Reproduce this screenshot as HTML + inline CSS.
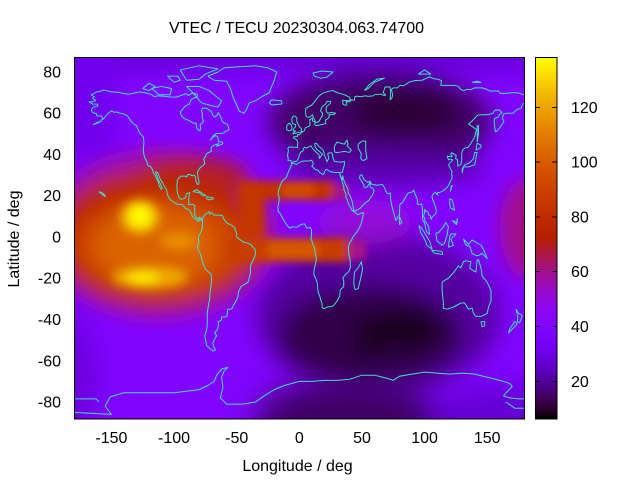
<!DOCTYPE html>
<html><head><meta charset="utf-8"><style>
html,body{margin:0;padding:0;background:#fff;}
svg{display:block;}
text{font-family:"Liberation Sans",Arial,sans-serif;font-size:16px;fill:#000;}
.cst polyline{fill:none;stroke:#40e0d0;stroke-width:1;vector-effect:non-scaling-stroke;stroke-linejoin:round;}
</style></head><body>
<svg width="640" height="480" viewBox="0 0 640 480" xmlns="http://www.w3.org/2000/svg">
<defs>
<clipPath id="pc"><rect x="74" y="57" width="451" height="362"/></clipPath>
<filter id="b16" filterUnits="userSpaceOnUse" x="-100" y="-100" width="840" height="680"><feGaussianBlur stdDeviation="16"/></filter>
<filter id="b12" filterUnits="userSpaceOnUse" x="-100" y="-100" width="840" height="680"><feGaussianBlur stdDeviation="12"/></filter>
<filter id="b9" filterUnits="userSpaceOnUse" x="-100" y="-100" width="840" height="680"><feGaussianBlur stdDeviation="9"/></filter>
<filter id="b5" filterUnits="userSpaceOnUse" x="-100" y="-100" width="840" height="680"><feGaussianBlur stdDeviation="5"/></filter>
<filter id="b4" filterUnits="userSpaceOnUse" x="-100" y="-100" width="840" height="680"><feGaussianBlur stdDeviation="4"/></filter>
<linearGradient id="cb" x1="0" y1="0" x2="0" y2="1">
<stop offset="0" stop-color="rgb(255,255,0)"/>
<stop offset="0.05" stop-color="rgb(249,219,0)"/>
<stop offset="0.10" stop-color="rgb(242,186,0)"/>
<stop offset="0.15" stop-color="rgb(235,157,0)"/>
<stop offset="0.20" stop-color="rgb(228,131,0)"/>
<stop offset="0.25" stop-color="rgb(221,108,0)"/>
<stop offset="0.30" stop-color="rgb(213,87,0)"/>
<stop offset="0.35" stop-color="rgb(206,70,0)"/>
<stop offset="0.40" stop-color="rgb(198,55,0)"/>
<stop offset="0.45" stop-color="rgb(189,42,0)"/>
<stop offset="0.50" stop-color="rgb(180,32,0)"/>
<stop offset="0.55" stop-color="rgb(171,23,79)"/>
<stop offset="0.60" stop-color="rgb(161,16,150)"/>
<stop offset="0.65" stop-color="rgb(151,11,206)"/>
<stop offset="0.70" stop-color="rgb(140,7,243)"/>
<stop offset="0.75" stop-color="rgb(128,4,255)"/>
<stop offset="0.80" stop-color="rgb(114,2,243)"/>
<stop offset="0.85" stop-color="rgb(99,1,206)"/>
<stop offset="0.90" stop-color="rgb(81,0,150)"/>
<stop offset="0.95" stop-color="rgb(57,0,79)"/>
<stop offset="0.975" stop-color="rgb(40,0,40)"/>
<stop offset="1" stop-color="rgb(0,0,0)"/>
</linearGradient>
</defs>
<rect x="0" y="0" width="640" height="480" fill="#fff"/>

<g clip-path="url(#pc)">
<rect x="74" y="57" width="451" height="362" fill="rgb(129,4,255)"/>
<g filter="url(#b12)">
<rect x="40" y="20" width="600" height="52" fill="rgb(103,1,215)"/>
<rect x="40" y="20" width="75" height="140" fill="rgb(112,2,236)"/>
<ellipse cx="380" cy="122" rx="112" ry="52" fill="rgb(66,0,104)"/>
<ellipse cx="405" cy="112" rx="55" ry="22" fill="rgb(42,0,50)"/>
<ellipse cx="385" cy="168" rx="100" ry="18" fill="rgb(88,0,170)"/>
<ellipse cx="378" cy="315" rx="122" ry="80" fill="rgb(85,0,160)"/>
<ellipse cx="370" cy="335" rx="92" ry="50" fill="rgb(50,0,72)"/>
<ellipse cx="400" cy="330" rx="45" ry="18" fill="rgb(25,0,25)"/>
<ellipse cx="367" cy="350" rx="12" ry="10" fill="rgb(20,0,20)"/>
<ellipse cx="365" cy="222" rx="48" ry="22" fill="rgb(148,10,215)"/>
</g>
<g filter="url(#b16)">
<ellipse cx="350" cy="420" rx="95" ry="40" fill="rgb(62,0,98)"/>
<ellipse cx="500" cy="425" rx="70" ry="40" fill="rgb(100,1,210)"/>
<ellipse cx="60" cy="380" rx="35" ry="70" fill="rgb(103,1,215)"/>
</g>
<g filter="url(#b9)">
<ellipse cx="160" cy="234" rx="118" ry="86" fill="rgb(156,12,175)"/>
<ellipse cx="190" cy="180" rx="60" ry="25" fill="rgb(176,28,50)"/>
<ellipse cx="158" cy="238" rx="105" ry="70" fill="rgb(186,40,0)"/>
<ellipse cx="160" cy="245" rx="85" ry="50" fill="rgb(206,70,0)"/>
<ellipse cx="155" cy="246" rx="60" ry="38" fill="rgb(218,100,0)"/>
<ellipse cx="528" cy="228" rx="28" ry="50" fill="rgb(163,17,140)"/>
</g>
<g filter="url(#b5)">
<ellipse cx="140" cy="217" rx="20" ry="17" fill="rgb(240,175,0)"/>
<ellipse cx="140" cy="216" rx="12" ry="12" fill="rgb(255,248,0)"/>
<ellipse cx="150" cy="277" rx="38" ry="11" fill="rgb(238,168,0)"/>
<ellipse cx="143" cy="278" rx="16" ry="6" fill="rgb(252,235,0)"/>
<ellipse cx="178" cy="241" rx="18" ry="9" fill="rgb(232,140,0)"/>
</g>
<g filter="url(#b4)">
<rect x="243" y="181" width="92" height="19" fill="rgb(194,50,0)"/>
<rect x="282" y="183" width="32" height="14" fill="rgb(210,78,0)"/>
<rect x="333" y="184" width="15" height="16" fill="rgb(165,18,135)"/>
<rect x="238" y="181" width="26" height="55" fill="rgb(196,53,0)"/>
<rect x="228" y="238" width="122" height="24" fill="rgb(200,62,0)"/>
<rect x="268" y="241" width="50" height="17" fill="rgb(213,88,0)"/>
<rect x="348" y="240" width="18" height="20" fill="rgb(165,18,135)"/>
</g>

<g class="cst" transform="translate(299.3,237) scale(1.2528,-2.0625)">
<polyline points="-168,65.5 -165,64.5 -161,64.4 -160.8,63.5 -164.5,63 -166,61.5 -165,60.3 -162,59.8 -161.7,58.7 -158,58.6 -157,57.5 -158.5,56 -161.5,55.5 -164.5,54.5 -160,55.5 -156,57.5 -154,59 -151.5,60.5 -150,61.2 -148,60.5 -146,60.6 -143,60 -140,59.7 -137,58.7 -136,57.5 -134,56 -131.5,54.5 -130,54 -129,52.5 -127.5,50.5 -124.5,48.5 -124,46 -124.5,42.5 -124.2,40.5 -123.5,38.5 -122.4,37.5 -121.8,36.5 -120.6,34.6 -118.5,34 -117.2,32.7 -116.2,30.6 -115,30 -114.2,28.5 -112.6,26.8 -112,25 -110.1,23 -109.5,23.5 -110,24.5 -111.5,26.5 -113,28.5 -114.8,31.5 -113,31.3 -112,29.5 -110.6,27.6 -109.3,26.5 -108,25 -105.8,22.6 -105.3,20.5 -103.6,18.5 -101,17.2 -98,16 -95.5,15.8 -93,15.5 -91,13.9 -88,13.2 -87.5,12.8 -85.7,11 -85.8,10.2 -84,9.2 -82.2,8.4 -80.2,7.4 -80,8.8 -78.5,8.5 -77.3,7.5 -77.5,8.7 -79.6,9.6 -81.5,8.8 -83.5,10.6 -83.4,15.2 -85.2,15.9 -88.2,15.7 -88.3,18.5 -87.5,21.5 -90.3,21 -90.5,19.5 -91.4,18.8 -94.4,18.2 -96,19.2 -97.4,21.5 -97.7,24.5 -97.3,27.5 -96.5,28.4 -94.5,29.5 -91.5,29.5 -89.7,29.1 -89.4,30.2 -87.5,30.3 -85.3,29.7 -84,30.1 -82.8,29 -82.7,27.5 -81.3,25.5 -80.3,25.6 -80.1,27 -81,29.6 -81.3,31.4 -80.5,32.5 -78.8,33.8 -76.6,34.8 -75.5,35.5 -76,37 -76.3,38 -75,38.8 -74,40.5 -72,41 -70,41.7 -70.6,42.7 -70,43.8 -67,44.8 -65,45.1 -64.2,45.4 -66,44 -63.5,44.5 -61,45.2 -61.5,46 -64.5,46.3 -64.8,47.3 -65,48.5 -66.5,49.2 -69,48.4 -71,46.9 -68.5,49.2 -66,50.2 -61.5,50.2 -58,51.3 -56,52.2 -57.3,54.6 -60,55.2 -61.7,56.3 -62.5,57.9 -64.6,60.3 -65.7,59 -67.6,58.2 -69,58.9 -70.1,60.8 -73.6,62.4 -77.4,62.5 -78.1,60.8 -77.3,59.8 -77.6,58.2 -76.5,56.3 -77.3,55.4 -79.3,54.4 -78.6,52.7 -79.3,51.5 -81,52.1 -82.2,53.2 -82.3,55.1 -85,55.3 -88,56.5 -91,57.2 -92.8,57.8 -94.6,59.4 -94.7,60.9 -92.8,62.2 -90.7,63.6 -87.8,64.4 -86.5,66.5 -84.7,67.2 -81.5,67.9 -81.3,69.2 -85.5,69.8 -88.6,68.6 -90.5,69.5 -93.8,68.8 -96.1,68.2 -98.4,67.8 -102.8,67.9 -108.8,68.3 -113.9,68.4 -115.3,67.9 -118.4,69.2 -122.8,69.9 -127.6,70.3 -130.6,70 -134.7,69.3 -138,69.4 -141,69.7 -144,70.1 -148,70.3 -151,70.4 -152.5,70.8 -156.6,71.3 -158,70.8 -161.8,70.3 -164,69.5 -166.2,68.9 -163.7,67.9 -164.9,67.2 -162.5,66.1 -165.1,65.6 -168,65.5"/>
<polyline points="-77.5,8.7 -75.5,10.8 -72,12.3 -71.5,11 -70,11.8 -68,10.6 -64,10.6 -61.5,10.5 -60,8.5 -58,6.8 -55,6 -52,4.8 -51,3.5 -50,1.5 -50,0 -48,-1 -44.5,-2.5 -41,-3 -38.5,-3.8 -37,-5 -35.2,-6 -35,-8.5 -36,-10 -37.5,-12 -39,-14 -39,-17.5 -40,-20 -41,-22 -44,-23 -46.5,-24 -48.5,-26.5 -49,-29 -50.5,-31 -52.5,-33 -53.5,-34.5 -55,-35 -57,-35 -57.5,-36.5 -57.5,-38.2 -59,-38.8 -62,-38.8 -62.3,-40.5 -65,-41 -64.5,-42.5 -65.5,-45 -67.5,-46.3 -66,-48 -68,-50 -69,-51.5 -68.5,-53 -67,-54.8 -69,-55.3 -71.5,-54 -74,-52.5 -75.5,-48 -74,-45 -73.5,-43 -73.5,-40 -73.5,-37 -72.5,-33 -71.5,-30 -71.3,-27 -70.5,-24 -70,-20 -70.5,-18 -72,-17.2 -75,-15.5 -76.5,-13.5 -77.5,-11.5 -79,-8 -81,-6 -81,-4 -80.2,-3 -80.5,-1 -80,1 -78.8,2 -77.5,4 -77.3,6.5 -77.5,8.7"/>
<polyline points="32.3,31.2 29.7,31.2 25.2,31.6 21.5,32.8 20,31.5 20,30.9 19,30.3 16,31.3 15.2,32.3 12.7,32.8 10.9,33.8 10,34.3 11.1,35.1 10.8,36.5 9.5,37.3 8.4,36.9 3.2,36.8 1.5,36.6 -1,35.7 -2.2,35.2 -5.9,35.8 -6.2,35.1 -7,34 -9.6,30.2 -10.3,29 -11.7,28.1 -13,27.6 -14.4,26.3 -16.3,23 -17,21 -16,19 -16.3,17.2 -17.1,14.4 -16.7,12.4 -15.5,11.5 -13.6,9.5 -11.7,7.4 -9.4,5.4 -7.5,4.3 -5,5 -2,4.7 1,5.9 2.7,6.3 4.3,6.3 5.9,4.3 7.5,4.4 8.5,4.8 9.6,3.5 9.8,1 9.3,-0.5 11,-3.8 12,-5 12.3,-6.1 13.1,-8.6 13.6,-11 12.7,-13.6 11.8,-15.8 11.6,-18 12.8,-19.7 14.3,-22.1 14.8,-25.4 15.2,-27.1 16.3,-28.6 17.2,-30.7 18.2,-32.4 18.2,-33.9 18.4,-34.1 19.6,-34.8 22.6,-33.9 25.9,-33.7 27.5,-33.2 30.1,-31.1 32.2,-28.8 32.6,-26.1 33,-25.4 35.4,-24.1 35.5,-21.5 34.8,-19.8 36.7,-18.3 39.5,-16.7 40.8,-14.7 40.5,-10.8 39.4,-8 39.2,-4.7 40.3,-2.6 41.6,-1.7 43.1,0.3 46.6,2.9 48.9,5.6 50.6,9.2 51.1,11.9 49.7,11.6 46.6,10.8 43.7,12.4 43.1,12.7 42.4,12.5 41.6,13.5 39.3,15.9 38.4,18 37.4,18.9 37.1,21 36.3,22.1 35.5,23.1 35.7,23.9 34.5,26.3 33.3,28.7 32.5,30 32.3,31.2"/>
<polyline points="44,-25 43.5,-22 44,-17 47,-15 49.5,-12 50.5,-15.5 49,-20 47,-25 45,-25.5 44,-25"/>
<polyline points="32.3,31.2 34.3,31.3 35,33 36,35 36,36.7 34,36.3 30,36.5 28,36.7 27,38 26.5,40 26,40.8 24,40.8 22.7,40.5 23.5,38 22,36.5 21.5,37.5 21,38.5 20,39.7 19.5,41.5 18.5,42.5 15.5,44 13.7,45.5 12.3,45.3 12.5,44 14,42.5 16,41.5 18.5,40.2 17,39 16,38 15.7,40 14,40.8 12,42 10.5,43 9.5,44.2 8,43.8 6,43.1 4,43.5 3.1,42.5 3,41.8 1,41 0,39.8 -0.5,38.5 -2,36.7 -4.5,36.5 -6,36 -7,37.2 -9,37 -8.8,38.7 -9.5,39 -8.7,42 -9.2,43 -8,43.7 -4,43.5 -1.5,43.4 -1.2,46 -2.2,47.2 -4.5,47.9 -4.5,48.6 -1.5,48.7 -1.5,49.7 0.2,49.5 1.5,50.5 2.5,51.1 4,51.4 4.8,52.9 7,53.5 8.5,54 8.6,55.5 8.2,56.8 10.5,57.7 10.5,56.2 12.5,55.8 12.3,54.3 14,54 18.5,54.6 21,55 21,56.8 23,57.5 24,58.3 23.5,59.2 28,59.5 29,60 26,60.4 22.5,60 21.5,61 21.5,63 25,65 25,65.8 22,65.7 21,64.5 19,63.5 17.5,62.4 17,61 18.5,60 18.5,59 16.5,57 16,56.2 14,55.5 12.8,55.8 11,58.5 10.5,59.3 8,58 6,58.2 5.2,59 5,61 5.2,62.3 7,63 10,64 12,65.5 14.5,67.5 16,68.5 19,69.8 23,70.6 27,71 30,70 33,69.5 36,69 40,67.8 41,66.5 38,66 34.5,66.3 35,64.3 37,63.8 38,64.3 37.3,65.6 40,65.5 42,66.5 44,66.3 44.3,68 46,68.3 49,68 53,68.5 54.5,68.2 59,68.4 60,69 65,69.3 68,68.5 69,68.8 67,70 68.5,72.8 72.5,72.7 72.8,70 72.5,66.5 74,67.5 74.5,69 73.5,71.5 75,72.3 78,72.3 80.5,73.5 83,73.3 86.5,74.5 87,75 92,75.8 98,76 101,76.8 104,77.7 107,76.8 111,76.5 113.5,75.7 113,73.5 118,73.5 124,73.5 127,73 129,71.5 131.5,70.8 133,71.5 137,71.5 140,72.3 146,72.3 150,71.5 152,70.8 159,70.8 160.5,69.6 168,69.8 170.5,70 175,69.8 180,68.8"/>
<polyline points="180,65 178.5,64.5 177,62.5 173.5,61.7 170.5,60 166,60 163.5,59.8 162,58 163.3,56 161.8,54.5 160,53 158,51.5 156.5,51 156,53.5 155.5,56 156,57.5 158.5,58 160,59.4 161.9,60.3 160,61.5 156.5,61.6 154.2,59.8 151.3,59.5 148.5,59.3 145,59.3 142.2,59 138,56.3 135.1,54.7 137.2,54 138.2,53.5 140.5,52.5 141.4,52.2 140.6,50 140,48.5 138.5,47 136.8,45.2 134.5,43.4 132.3,43.2 130.8,42.5 129.7,41 129.6,37 129,35.2 126.5,34.4 126.4,36.5 126.1,37.7 125.1,37.8 124.7,38 125.3,39.5 124.3,39.9 122.9,40.4 121.4,40.9 121,40 122.1,39.2 121.1,38.9 118.1,39.2 119,37.4 120.8,37.8 122.5,37.4 120.1,35.8 119.2,34.9 121.2,32.5 121.9,31.7 121.5,30.1 122,29.8 121.7,28.2 119.6,25.7 118.6,24.5 116,22.9 114.2,22.2 111.8,21.5 110.6,21.7 110.4,20.3 109.6,21 108.5,21.7 106.7,20.7 105.9,19.8 106.4,18.2 107.4,16.7 108.3,15.3 109.3,13.4 109.2,11.6 108.4,11 106,9.6 105.2,8.6 104.8,9.7 104.3,10.5 103.5,10.6 102.6,12.2 100.8,12.6 100,13.4 100,12 99.2,10 99.9,9.2 100.5,7.4 101.6,6.7 103.4,4.9 103.4,3.7 104,1.5 103.5,1.3 101.4,2.8 100.1,6.5 98.5,8.4 98.3,10.7 98.5,13.1 97.6,16.1 95.4,15.7 94.2,16 94.3,18.2 93.5,19.4 92.1,21.2 91.4,22.8 90.3,21.8 88.9,21.7 86.9,21.3 85,19.5 82.2,16.6 80.3,15.9 79.9,10.4 79.3,10.3 78,8.9 77,8 76.1,10 74.9,12.7 73.5,16 72.8,19.2 72.6,21.4 70.5,20.9 69,22.3 68.2,23.7 66.4,25.4 61.5,25.1 57.4,25.7 56.5,27.1 54.7,26.5 51.5,27.9 50.1,30.1 48.6,29.9 48,28.7 49.3,27.5 50.1,26.7 51.6,25.2 51.6,24.2 54,24.1 55.4,25.4 56.4,26.4 56.5,24.2 58.7,23.6 59.8,22.3 58.5,20.4 55.7,17.9 52.4,16.4 48.7,14 45,12.7 43.5,12.6 42.8,15.3 42.1,17.4 40.9,19.5 39.1,21.3 38.5,23.7 37,25.4 35.1,28.1 34.8,29.7 34.3,27.8 32.7,29.9 32.3,31.2"/>
<polyline points="-73,78 -68,76 -58,75.5 -55,72 -53,68 -50,64 -48,61 -44,60 -42,62 -40,65 -35,66 -30,68 -24,70 -22,73 -20,76 -18,80 -25,82 -35,83 -50,82.5 -60,82 -65,80 -73,78"/>
<polyline points="-80,73 -72,71 -66,68 -62,66 -65,63 -72,64 -78,65 -85,70 -90,73 -80,73"/>
<polyline points="-118,72 -110,73 -102,72 -103,69 -112,69 -118,72"/>
<polyline points="-90,76 -80,76.5 -75,79 -65,81.5 -80,83 -95,81 -90,76"/>
<polyline points="-125,72 -120,74.5 -115,73 -120,71 -125,72"/>
<polyline points="-100,75 -95,76 -97,78 -105,78 -100,75"/>
<polyline points="-5.5,50 1.5,51 1.7,52.5 0,53.5 -2,56 -2,57.7 -3.5,58.6 -5,58.6 -6,57 -5.5,55 -3,54.5 -3,53.5 -4.5,52.5 -5,51.5 -3,51.4 -5.5,50"/>
<polyline points="-6,52 -6,54 -8,55.2 -10,54 -10,52 -8,51.5 -6,52"/>
<polyline points="-22,64 -14,64.5 -14,66 -22,66.5 -24,65 -22,64"/>
<polyline points="130,31 131,34 135,34 140,35 141,38 142,41 140,41 139,38 136,36 132,35 130,33 130,31"/>
<polyline points="141,42 145,43.5 145,44.5 142,45.5 141,42"/>
<polyline points="142,46 143,50 143,54 142,54 142,46"/>
<polyline points="120.5,22 121.5,25 122,25 120.5,22"/>
<polyline points="120,18.5 122,18 124,13 121,14 120,16 120,18.5"/>
<polyline points="122,8 126,7 126,9 125.5,6 122,8"/>
<polyline points="80,6 81.8,7 80,9.8 79.8,8 80,6"/>
<polyline points="95.5,5.5 98,4 104,-2 106,-6 102,-4 100,-1 97,2 95.5,5.5"/>
<polyline points="109,2 110,-2 114,-4 116,-3 118,1 119,5 117,7 115,5 111,2 109,2"/>
<polyline points="105.5,-6.5 108,-6.5 114,-7 114.5,-8.5 108,-7.8 105.5,-6.5"/>
<polyline points="119,-5 120,0 121,1.5 125,1.5 121,-1 123,-4 121,-4.5 119,-5"/>
<polyline points="131,-1 135,-3.5 138,-1.5 145,-4 147,-6 150,-10.5 146,-8 143,-9 141,-9 138,-8 136,-4.5 133,-4 131,-1"/>
<polyline points="114,-22 114,-26 115,-32 115,-34.5 118,-35 123,-34 129,-32 132,-32 135,-35 138,-34.5 139,-37 141,-38.5 145,-38.5 147,-38 150,-37 151,-34 153,-31 153,-26 150,-22 146,-19 145,-15 143,-11 142,-11 141,-17 138,-16 136,-15 137,-12 133,-11.5 131,-12 129,-15 127,-14 124,-16.5 122,-18 119,-20 116,-21 114,-22"/>
<polyline points="145,-41 148,-41 148,-43 146,-43.5 145,-41"/>
<polyline points="173,-35 175,-37 178,-38 176,-41.5 174,-41 174.5,-39 173,-35"/>
<polyline points="172,-41 174,-42 171,-44 167,-46.5 168,-44.5 172,-41"/>
<polyline points="-180,-78.5 -168,-78.5 -162,-78.5 -160,-80"/>
<polyline points="-180,-85 -150,-86 -155,-82 -151,-77.5 -140,-75.5 -120,-75.5 -100,-75.5 -80,-74 -73,-72 -68,-70 -66,-67 -62,-64 -57,-63.2 -60,-65 -62,-68 -61,-73 -63,-78 -58,-81 -45,-81 -35,-80 -28,-77 -20,-74 -12,-72 0,-70 10,-70 20,-69.5 30,-69.5 40,-69 50,-67 60,-67 70,-68.5 75,-69.5 80,-67.5 90,-66.5 100,-65.5 110,-66 120,-66.5 130,-66 140,-66.5 150,-68 160,-69.5 168,-71 170,-72.5 166,-75 163,-77 168,-78 175,-78.5 180,-78.5"/>
<polyline points="165,-80 172,-83 180,-83"/>
<polyline points="-85,22 -82,23 -77,21 -74.5,20 -77,20 -80,21.5 -85,22"/>
<polyline points="-74,19.5 -69,19 -68.5,18.5 -72,18 -74,18.5 -74,19.5"/>
<polyline points="47,45 50,46.5 53,46.5 53,42 54,38 51,37 49,38 49.5,40.5 47,43 47,45"/>
<polyline points="28,41.5 28,44 30,46 33,45.5 36,45 38,47 39,45 38,44.5 41.5,42 40,41 36,41.5 31,41 29,41 28,41.5"/>
<polyline points="52,71 56,74 62,76.5 68,77 60,75 55,72 52,71"/>
<polyline points="12,78 17,77 22,77.5 27,80 18,80.5 11,79.5 12,78"/>
<polyline points="95,79 105,79 100,81 95,79"/>
<polyline points="138,75 142,75.5 145,75 138,75"/>
<polyline points="-160,22 -155,19.5 -155,20.2 -157,21.3 -160,22"/>
</g>
</g>

<rect x="74.5" y="57.5" width="450" height="361.5" fill="none" stroke="#000" stroke-width="1"/>

<rect x="535.5" y="57.5" width="21.5" height="361.5" fill="url(#cb)" stroke="#000" stroke-width="1"/>
<g stroke="#000" stroke-width="1">
<line x1="535" y1="381.5" x2="540" y2="381.5"/><line x1="552" y1="381.5" x2="557" y2="381.5"/>
<line x1="535" y1="326.5" x2="540" y2="326.5"/><line x1="552" y1="326.5" x2="557" y2="326.5"/>
<line x1="535" y1="271.5" x2="540" y2="271.5"/><line x1="552" y1="271.5" x2="557" y2="271.5"/>
<line x1="535" y1="217" x2="540" y2="217"/><line x1="552" y1="217" x2="557" y2="217"/>
<line x1="535" y1="162" x2="540" y2="162"/><line x1="552" y1="162" x2="557" y2="162"/>
<line x1="535" y1="107.5" x2="540" y2="107.5"/><line x1="552" y1="107.5" x2="557" y2="107.5"/>
</g>
<text x="571" y="387">20</text>
<text x="571" y="332">40</text>
<text x="571" y="277">60</text>
<text x="571" y="222.5">80</text>
<text x="571" y="167.5">100</text>
<text x="571" y="113">120</text>

<text x="296.5" y="33" text-anchor="middle">VTEC / TECU 20230304.063.74700</text>

<g text-anchor="end">
<text x="61" y="77.5">80</text>
<text x="61" y="118.5">60</text>
<text x="61" y="160">40</text>
<text x="61" y="201">20</text>
<text x="61" y="242.5">0</text>
<text x="61" y="283.5">-20</text>
<text x="61" y="325">-40</text>
<text x="61" y="366.5">-60</text>
<text x="61" y="407.5">-80</text>
</g>
<g text-anchor="middle">
<text x="111.4" y="443">-150</text>
<text x="174" y="443">-100</text>
<text x="236.7" y="443">-50</text>
<text x="299.3" y="443">0</text>
<text x="362" y="443">50</text>
<text x="424.6" y="443">100</text>
<text x="487.2" y="443">150</text>
</g>
<text x="297.5" y="471" text-anchor="middle">Longitude / deg</text>
<text transform="translate(19,239) rotate(-90)" text-anchor="middle">Latitude / deg</text>
</svg>
</body></html>
